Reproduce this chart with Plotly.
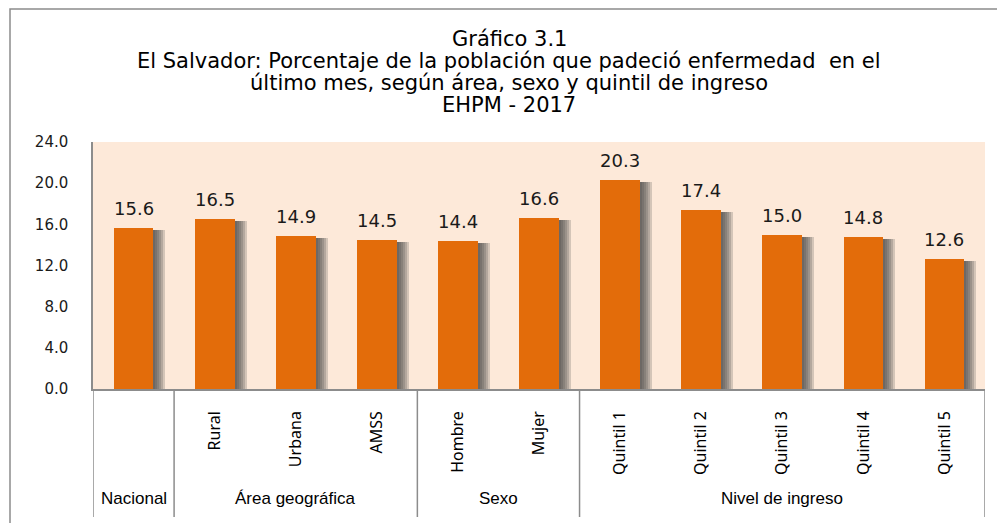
import plotly.graph_objects as go

# ---------------- data ----------------
categories = ["Nacional", "Rural", "Urbana", "AMSS", "Hombre", "Mujer",
              "Quintil 1", "Quintil 2", "Quintil 3", "Quintil 4", "Quintil 5"]
tick_labels = ["", "Rural", "Urbana", "AMSS", "Hombre", "Mujer",
               "Quintil 1", "Quintil 2", "Quintil 3", "Quintil 4", "Quintil 5"]
groups = ["Nacional", "Área geográfica", "Área geográfica", "Área geográfica",
          "Sexo", "Sexo", "Nivel de ingreso", "Nivel de ingreso",
          "Nivel de ingreso", "Nivel de ingreso", "Nivel de ingreso"]
values = [15.6, 16.5, 14.9, 14.5, 14.4, 16.6, 20.3, 17.4, 15.0, 14.8, 12.6]
title_lines = ["Gráfico 3.1",
               "El Salvador: Porcentaje de la población que padeció enfermedad  en el",
               "último mes, según área, sexo y quintil de ingreso",
               "EHPM - 2017"]
y_ticks = [0, 4, 8, 12, 16, 20, 24]

# ---------------- geometry ----------------
W, H = 997, 523
ML, MR, MT, MB = 93, 12, 142, 134
PW, PH = W - ML - MR, H - MT - MB
YMAX = 24


def pxx(px):
    return (px - ML) / PW


def pxy(py):
    return (H - MB - py) / PH


n = len(categories)
idx = list(range(n))
unit_px = PW / n
bar_w = 0.49
px_per_val = PH / YMAX

BAR_COLOR = "#E36C0A"
BG_COLOR = "#FDE9D9"
LINE_COLOR = "#8C8C8C"
NARROW = "Liberation Sans Narrow, Arial Narrow, Noto Sans, sans-serif"

fig = go.Figure()

# soft shadow layers (behind the bars)
for s in [2, 4, 6, 8, 10, 12]:
    fig.add_trace(go.Bar(
        x=idx, y=[v - 2 / px_per_val for v in values],
        width=bar_w, offset=-bar_w / 2 + s / unit_px,
        marker=dict(color="rgba(70,70,70,0.22)", line=dict(width=0)),
        hoverinfo="skip", showlegend=False))

fig.add_trace(go.Bar(
    x=idx, y=values, width=bar_w, offset=-bar_w / 2,
    marker=dict(color=BAR_COLOR, line=dict(width=0)),
    showlegend=False, name="%"))

annotations = []
# value labels
for i, v in zip(idx, values):
    annotations.append(dict(x=i, y=v, xref="x", yref="y", text=f"{v:.1f}",
                            showarrow=False, yanchor="bottom", yshift=7,
                            font=dict(family="DejaVu Sans", size=18, color="#1a1a1a")))

# title lines
title_y = [39, 61, 83, 105]
for line, ty in zip(title_lines, title_y):
    annotations.append(dict(x=pxx(509), y=pxy(ty), xref="paper", yref="paper",
                            text=line, showarrow=False, xanchor="center",
                            yanchor="middle",
                            font=dict(family="DejaVu Sans", size=21, color="#000000")))

# group labels and separators
shapes = []
bounds = [-0.5]
for i in range(1, n):
    if groups[i] != groups[i - 1]:
        bounds.append(i - 0.5)
bounds.append(n - 0.5)
for a, b in zip(bounds[:-1], bounds[1:]):
    annotations.append(dict(x=(a + b) / 2, y=pxy(498), xref="x", yref="paper",
                            text=groups[int(a + 0.5)], showarrow=False,
                            yanchor="middle",
                            font=dict(family="Liberation Sans, Arial, sans-serif",
                                      size=17, color="#000000")))
for bx in bounds:
    shapes.append(dict(type="line", xref="x", yref="paper", x0=bx, x1=bx,
                       y0=0, y1=pxy(517), line=dict(color=LINE_COLOR, width=1.5)))

# outer frame
shapes.append(dict(type="rect", xref="paper", yref="paper",
                   x0=pxx(10), x1=pxx(1100), y0=pxy(700), y1=pxy(9),
                   line=dict(color=LINE_COLOR, width=1.5), fillcolor="rgba(0,0,0,0)",
                   layer="below"))

fig.update_layout(
    width=W, height=H,
    margin=dict(l=ML, r=MR, t=MT, b=MB),
    paper_bgcolor="white", plot_bgcolor=BG_COLOR,
    barmode="overlay", bargap=0,
    showlegend=False,
    annotations=annotations, shapes=shapes,
    xaxis=dict(range=[-0.5, n - 0.5], tickmode="array", tickvals=idx,
               ticktext=tick_labels, tickangle=-90, ticks="",
               ticklabelstandoff=14,
               tickfont=dict(family=NARROW, size=16, color="#000000"),
               showline=True, linecolor=LINE_COLOR, linewidth=1.5,
               showgrid=False, zeroline=False, fixedrange=True),
    yaxis=dict(range=[0, YMAX], tickmode="array", tickvals=y_ticks,
               ticktext=[f"{t:.1f}" for t in y_ticks], ticks="",
               ticklabelstandoff=20,
               tickfont=dict(family="DejaVu Sans", size=15, color="#1a1a1a"),
               showline=True, linecolor=LINE_COLOR, linewidth=1.5,
               showgrid=False, zeroline=False, fixedrange=True),
)

post = """
document.body.style.margin = '0px';
document.body.style.overflow = 'hidden';
document.querySelectorAll('.xtick text').forEach(function(t){
  t.style.fontStretch = 'condensed';
});
"""

fig.write_html("out.html", post_script=post, config={"displayModeBar": False})
